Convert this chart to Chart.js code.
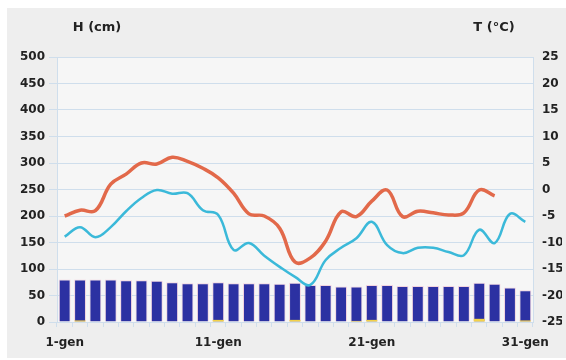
<!DOCTYPE html>
<html>
<head>
<meta charset="utf-8">
<script src="https://cdn.jsdelivr.net/npm/chart.js@4/dist/chart.umd.min.js"></script>
<style>
html,body{margin:0;padding:0;background:#ffffff;}
#wrap{position:relative;width:566px;height:360px;}
</style>
</head>
<body>
<div id="wrap"><canvas id="c" width="566" height="360"></canvas></div>
<script>
// Categories (days of January)
const days = ["1-gen","2-gen","3-gen","4-gen","5-gen","6-gen","7-gen","8-gen","9-gen","10-gen",
  "11-gen","12-gen","13-gen","14-gen","15-gen","16-gen","17-gen","18-gen","19-gen","20-gen",
  "21-gen","22-gen","23-gen","24-gen","25-gen","26-gen","27-gen","28-gen","29-gen","30-gen","31-gen"];
// Snow height H (cm)
const snowHeight = [80,80,80,80,79,79,78,75,73,73,75,73,73,73,72,74,70,70,67,67,70,70,68,68,68,68,68,74,72,65,60];
// Fresh snow (cm)
const freshSnow = [0,3,0,0,0,0,0,0,0,0,4,0,0,0,0,4,0,0,0,2,4,0,0,0,0,0,0,6,0,0,3];
// Max temperature T (°C)
const tempMax = [-5,-3.9,-4,1,2.9,5,4.8,6.1,5.3,4,2.2,-0.7,-4.6,-5,-7.3,-13.7,-12.9,-9.7,-4.2,-5.1,-2.2,-0.1,-5.1,-4.1,-4.4,-4.8,-4.4,-0.1,-1.2,null,null];
// Min temperature T (°C)
const tempMin = [-8.9,-7.1,-9,-7.1,-4.1,-1.6,-0.1,-0.8,-0.7,-3.9,-4.8,-11.4,-10.1,-12.5,-14.6,-16.5,-18,-13.3,-11,-9.2,-6.1,-10.5,-12,-11,-11,-11.8,-12.4,-7.6,-10.1,-4.6,-6.1];
// Axis ranges
const hTicks = {min:0, max:500, step:50};
const tTicks = {min:-25, max:25, step:5};
const leftTitle = "H (cm)";
const rightTitle = "T (°C)";
const shownLabels = ["1-gen","11-gen","21-gen","31-gen"];

const FONT = "'DejaVu Sans', sans-serif";
const gridCol = '#cfdeec';

const bgPlugin = {
  id:'bg',
  beforeDraw(chart){
    const ctx = chart.ctx, a = chart.chartArea;
    ctx.save();
    ctx.fillStyle = '#ffffff';
    ctx.fillRect(0,0,chart.width,chart.height);
    ctx.fillStyle = '#eeeeee';
    ctx.fillRect(7,8,chart.width-7,chart.height-10);
    ctx.fillStyle = '#f6f6f6';
    ctx.fillRect(a.left,a.top,a.right-a.left,a.bottom-a.top);
    ctx.restore();
  },
  afterDraw(chart){
    const ctx = chart.ctx;
    ctx.save();
    ctx.fillStyle = '#222222';
    ctx.font = "bold 13px " + FONT;
    ctx.textAlign = 'center';
    ctx.textBaseline = 'middle';
    ctx.fillText(leftTitle, 97, 28);
    ctx.fillText(rightTitle, 494, 28);
    ctx.restore();
  }
};

new Chart(document.getElementById('c'), {
  type:'bar',
  data:{
    labels:days,
    datasets:[
      {type:'line', label:'T max', data:tempMax, yAxisID:'yT', borderColor:'#e2694a', borderWidth:3.5,
       pointRadius:0, tension:0.4, fill:false, order:0, spanGaps:false},
      {type:'line', label:'T min', data:tempMin, yAxisID:'yT', borderColor:'#3bb9d9', borderWidth:2.5,
       pointRadius:0, tension:0.4, fill:false, order:0},
      {label:'Neve fresca', data:freshSnow, yAxisID:'yH', backgroundColor:'#f2d24a', grouped:false,
       categoryPercentage:0.9, barPercentage:0.8, order:1},
      {label:'H neve', data:snowHeight, yAxisID:'yH', backgroundColor:'#2c31a2', borderColor:'#f2d3df', borderWidth:1,
       grouped:false, categoryPercentage:0.9, barPercentage:0.86, order:2}
    ]
  },
  options:{
    responsive:false,
    animation:false,
    layout:{padding:{left:8,right:4,top:57,bottom:8}},
    plugins:{legend:{display:false}, tooltip:{enabled:false}},
    scales:{
      x:{
        offset:true,
        grid:{offset:true, drawOnChartArea:false, color:gridCol, tickLength:5},
        border:{color:gridCol},
        ticks:{autoSkip:false, maxRotation:0, padding:9, color:'#222222', font:{family:FONT, weight:'bold', size:12},
          callback:function(v,i){ const l = days[i]; return shownLabels.includes(l) ? l : ''; }},
        afterFit(s){ s.height = 30; }
      },
      yH:{
        position:'left', min:hTicks.min, max:hTicks.max,
        grid:{color:gridCol, tickLength:8},
        border:{color:gridCol},
        ticks:{stepSize:hTicks.step, padding:4, color:'#222222', font:{family:FONT, weight:'bold', size:12}},
        afterFit(s){ s.width = 49; }
      },
      yT:{
        position:'right', min:tTicks.min, max:tTicks.max,
        grid:{drawOnChartArea:false, drawTicks:false, color:gridCol},
        border:{color:gridCol},
        ticks:{stepSize:tTicks.step, padding:9, color:'#222222', font:{family:FONT, weight:'bold', size:12}},
        afterFit(s){ s.width = 29; }
      }
    }
  },
  plugins:[bgPlugin]
});
</script>
</body>
</html>
